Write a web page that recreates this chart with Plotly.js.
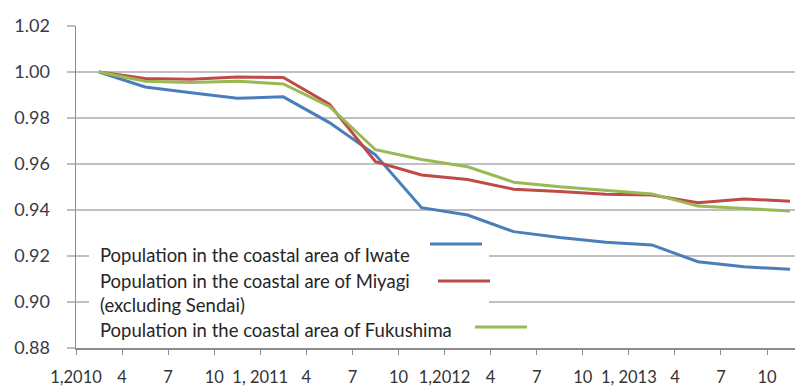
<!DOCTYPE html>
<html>
<head>
<meta charset="utf-8">
<script src="https://cdn.plot.ly/plotly-3.0.1.min.js"></script>
<style>html,body{margin:0;padding:0;background:#fff;}#chart{width:795px;height:387px;}</style>
</head>
<body>
<div id="chart"></div>
<script>
// Quarterly points, Jan 2010 .. Oct 2013 (index 0..15)
var quarterIndex = [0,1,2,3,4,5,6,7,8,9,10,11,12,13,14,15];
var iwate     = [1.000,0.9935,0.991,0.9886,0.9892,0.978,0.964,0.9410,0.9378,0.9306,0.928,0.926,0.9248,0.9175,0.9153,0.9142];
var miyagi    = [1.000,0.9972,0.9968,0.9978,0.9976,0.986,0.961,0.9552,0.9533,0.949,0.948,0.9468,0.9465,0.9432,0.9448,0.9438];
var fukushima = [1.000,0.9960,0.9954,0.996,0.9948,0.985,0.9662,0.962,0.9588,0.9521,0.9501,0.9484,0.947,0.9417,0.9407,0.9396];
var tickPos   = [-0.5,0.5,1.5,2.5,3.5,4.5,5.5,6.5,7.5,8.5,9.5,10.5,11.5,12.5,13.5,14.5];
var tickText  = ["1,2010","4","7","10","1, 2011","4","7","10","1,2012","4","7","10","1, 2013","4","7","10"];
var seriesNames = ["Population in the coastal area of Iwate",
                   "Population in the coastal are of Miyagi<br>(excluding Sendai)",
                   "Population in the coastal area of Fukushima"];
var colors = ["#4A7EBB","#BE4B48","#98B954"];

var W=795,H=387, L=76, R=0, T=26, B=39;
var pw=W-L-R, ph=H-T-B;
function px(x){return (x-L)/pw;}
function py(y){return (H-B-y)/ph;}

var traces = [iwate, miyagi, fukushima].map(function(v,i){
  return {x: quarterIndex, y: v, type:'scatter', mode:'lines',
          line:{color:colors[i], width:3}, showlegend:false, hoverinfo:'skip'};
});

var font = "Lato, 'Open Sans', sans-serif";
var shapes = [
  {type:'rect', xref:'paper', yref:'paper', x0:px(89), x1:px(489), y0:py(344), y1:py(232),
   fillcolor:'#ffffff', line:{width:0}, layer:'above'},
  {type:'line', xref:'paper', yref:'paper', x0:px(430), x1:px(482), y0:py(244), y1:py(244), line:{color:colors[0], width:3}, layer:'above'},
  {type:'line', xref:'paper', yref:'paper', x0:px(438), x1:px(490), y0:py(281), y1:py(281), line:{color:colors[1], width:3}, layer:'above'},
  {type:'line', xref:'paper', yref:'paper', x0:px(475), x1:px(527), y0:py(327), y1:py(327), line:{color:colors[2], width:3}, layer:'above'}
];
var annFont = {family:font, size:18.5, color:'#262626'};
var annotations = [
  {text:seriesNames[0], xref:'paper', yref:'paper', x:px(98), y:py(255), xanchor:'left', yanchor:'middle', showarrow:false, font:annFont},
  {text:seriesNames[1], xref:'paper', yref:'paper', x:px(98), y:py(292.5), xanchor:'left', yanchor:'middle', showarrow:false, font:annFont, align:'left'},
  {text:seriesNames[2], xref:'paper', yref:'paper', x:px(98), y:py(330), xanchor:'left', yanchor:'middle', showarrow:false, font:annFont}
];

var layout = {
  width:W, height:H,
  margin:{l:L, r:R, t:T, b:B, pad:0},
  paper_bgcolor:'#ffffff', plot_bgcolor:'#ffffff',
  showlegend:false,
  xaxis:{range:[-0.5, -0.5 + (W-L-R)/46.07], tickmode:'array', tickvals:tickPos, ticktext:tickText,
         showgrid:false, zeroline:false, showline:true, linecolor:'#8c8c8c', linewidth:1.5,
         ticks:'outside', ticklen:5, tickcolor:'#8c8c8c', tickwidth:1,
         tickfont:{family:font, size:16.5, color:'#333333'}, ticklabelstandoff:9},
  yaxis:{range:[0.88,1.02], tickmode:'array', tickvals:[0.88,0.90,0.92,0.94,0.96,0.98,1.00,1.02],
         ticktext:['0.88','0.90','0.92','0.94','0.96','0.98','1.00','1.02'],
         showgrid:true, gridcolor:'#c0c0c0', gridwidth:1.5, zeroline:false,
         showline:true, linecolor:'#8c8c8c', linewidth:1.5,
         ticks:'outside', ticklen:8, tickcolor:'#c0c0c0', tickwidth:1.5,
         tickfont:{family:font, size:18, color:'#3a3a4a'}, ticklabelstandoff:13},
  shapes:shapes, annotations:annotations
};
Plotly.newPlot('chart', traces, layout, {staticPlot:true, displayModeBar:false});
</script>
</body>
</html>
